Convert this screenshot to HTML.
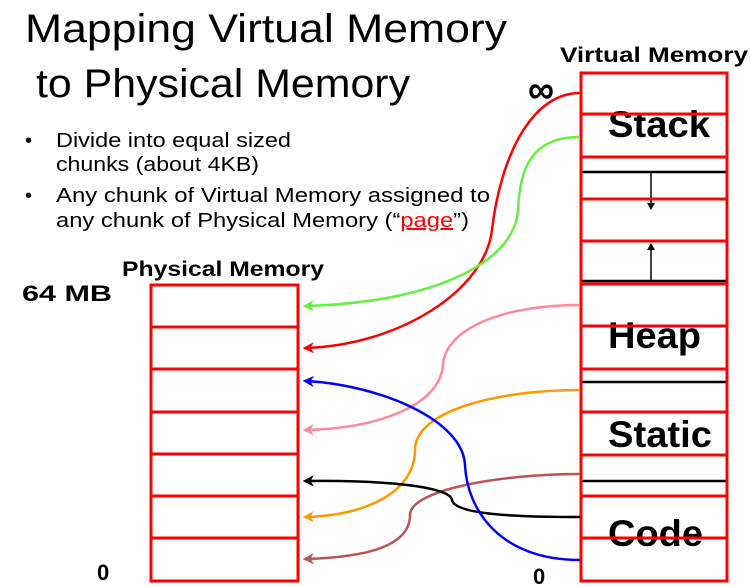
<!DOCTYPE html>
<html><head><meta charset="utf-8"><style>
html,body{margin:0;padding:0;background:#fff;}
svg{display:block;font-family:"Liberation Sans",sans-serif;}
</style></head><body>
<svg width="751" height="587" viewBox="0 0 751 587" xmlns="http://www.w3.org/2000/svg">
<defs>
<marker id="ag" viewBox="0 0 10 10" refX="7" refY="5" markerWidth="4.5" markerHeight="4.5" orient="auto"><path d="M0,0 L10,5 L0,10 L3,5 z" fill="#66ee44"/></marker>
<marker id="ar" viewBox="0 0 10 10" refX="7" refY="5" markerWidth="4.5" markerHeight="4.5" orient="auto"><path d="M0,0 L10,5 L0,10 L3,5 z" fill="#ff0000"/></marker>
<marker id="ap" viewBox="0 0 10 10" refX="7" refY="5" markerWidth="4.5" markerHeight="4.5" orient="auto"><path d="M0,0 L10,5 L0,10 L3,5 z" fill="#ff8899"/></marker>
<marker id="ao" viewBox="0 0 10 10" refX="7" refY="5" markerWidth="4.5" markerHeight="4.5" orient="auto"><path d="M0,0 L10,5 L0,10 L3,5 z" fill="#ff9900"/></marker>
<marker id="abr" viewBox="0 0 10 10" refX="7" refY="5" markerWidth="4.5" markerHeight="4.5" orient="auto"><path d="M0,0 L10,5 L0,10 L3,5 z" fill="#bb5555"/></marker>
<marker id="ak" viewBox="0 0 10 10" refX="7" refY="5" markerWidth="4.5" markerHeight="4.5" orient="auto"><path d="M0,0 L10,5 L0,10 L3,5 z" fill="#000"/></marker>
<marker id="ab" viewBox="0 0 10 10" refX="7" refY="5" markerWidth="4.5" markerHeight="4.5" orient="auto"><path d="M0,0 L10,5 L0,10 L3,5 z" fill="#0000ff"/></marker>
</defs>
<text x="25" y="42" font-size="40" textLength="482" lengthAdjust="spacingAndGlyphs">Mapping Virtual Memory</text>
<text x="36" y="97" font-size="40" textLength="374" lengthAdjust="spacingAndGlyphs">to Physical Memory</text>
<g font-size="20">
<text x="25" y="147">•</text>
<text x="56" y="147" textLength="235" lengthAdjust="spacingAndGlyphs">Divide into equal sized</text>
<text x="56" y="171" textLength="203" lengthAdjust="spacingAndGlyphs">chunks (about 4KB)</text>
<text x="25" y="202">•</text>
<text x="56" y="202" textLength="434" lengthAdjust="spacingAndGlyphs">Any chunk of Virtual Memory assigned to</text>
<text x="56" y="227" textLength="413" lengthAdjust="spacingAndGlyphs">any chunk of Physical Memory (“<tspan fill="#ff0000" text-decoration="underline">page</tspan>”)</text>
</g>
<text x="122" y="276" font-size="21" font-weight="bold" textLength="202" lengthAdjust="spacingAndGlyphs">Physical Memory</text>
<text x="22" y="301" font-size="22" font-weight="bold" textLength="90" lengthAdjust="spacingAndGlyphs">64 MB</text>
<text x="97" y="580" font-size="22" font-weight="bold">0</text>
<text x="533" y="584" font-size="22" font-weight="bold">0</text>
<text x="560" y="62" font-size="21" font-weight="bold" textLength="188" lengthAdjust="spacingAndGlyphs">Virtual Memory</text>
<text x="528" y="103" font-size="40" font-weight="bold" textLength="26" lengthAdjust="spacingAndGlyphs">∞</text>

<g font-size="37" font-weight="bold">
<text x="608" y="137" textLength="102" lengthAdjust="spacingAndGlyphs">Stack</text>
<text x="608" y="348" textLength="93" lengthAdjust="spacingAndGlyphs">Heap</text>
<text x="608" y="447" textLength="104" lengthAdjust="spacingAndGlyphs">Static</text>
<text x="608" y="546" textLength="95" lengthAdjust="spacingAndGlyphs">Code</text>
</g>
<g stroke="#000" stroke-width="2.5">
<line x1="582" y1="172" x2="727" y2="172"/>
<line x1="582" y1="281" x2="727" y2="281"/>
<line x1="582" y1="382" x2="727" y2="382"/>
<line x1="582" y1="481" x2="727" y2="481"/>
<line x1="651" y1="172" x2="651" y2="204" stroke-width="1.5"/>
<line x1="651" y1="281" x2="651" y2="249" stroke-width="1.5"/>
</g>
<path d="M647,203 L655,203 L651,210 z" fill="#000"/>
<path d="M647,250 L655,250 L651,243 z" fill="#000"/>
<g stroke="#ff0000" stroke-width="3" fill="none">
<rect x="581" y="73" width="146" height="508"/>
<line x1="581" y1="114" x2="727" y2="114"/>
<line x1="581" y1="157" x2="727" y2="157"/>
<line x1="581" y1="199" x2="727" y2="199"/>
<line x1="581" y1="241" x2="727" y2="241"/>
<line x1="581" y1="284" x2="727" y2="284"/>
<line x1="581" y1="326" x2="727" y2="326"/>
<line x1="581" y1="369" x2="727" y2="369"/>
<line x1="581" y1="412" x2="727" y2="412"/>
<line x1="581" y1="455" x2="727" y2="455"/>
<line x1="581" y1="496" x2="727" y2="496"/>
<line x1="581" y1="538" x2="727" y2="538"/>
</g>
<g stroke="#ff0000" stroke-width="3" fill="none">
<rect x="151" y="285" width="147" height="296"/>
<line x1="151" y1="327" x2="298" y2="327"/>
<line x1="151" y1="369" x2="298" y2="369"/>
<line x1="151" y1="412" x2="298" y2="412"/>
<line x1="151" y1="454" x2="298" y2="454"/>
<line x1="151" y1="496" x2="298" y2="496"/>
<line x1="151" y1="538" x2="298" y2="538"/>
</g>
<g fill="none" stroke-width="2.5">
<path d="M580,93 C530,93 500,160 492,230 C485,290 400,345 306,348" stroke="#ff0000" marker-end="url(#ar)"/>
<path d="M580,137 C530,137 520,170 518,210 C515,260 440,302 306,306" stroke="#66ee44" marker-end="url(#ag)"/>
<path d="M580,305 C500,305 445,330 443,365 C440,405 380,428 306,430" stroke="#ff8899" marker-end="url(#ap)"/>
<path d="M580,390 C500,390 415,410 415,450 C415,490 370,515 306,517" stroke="#ff9900" marker-end="url(#ao)"/>
<path d="M580,474 C500,474 410,490 410,515 C410,545 370,557 306,559" stroke="#bb5555" marker-end="url(#abr)"/>
<path d="M580,517 C520,517 455,515 452,500 C450,486 380,480 306,481" stroke="#000" marker-end="url(#ak)"/>
<path d="M580,560 C500,560 467,510 465,465 C463,420 380,385 306,381" stroke="#0000ff" marker-end="url(#ab)"/>
</g>
</svg>
</body></html>
